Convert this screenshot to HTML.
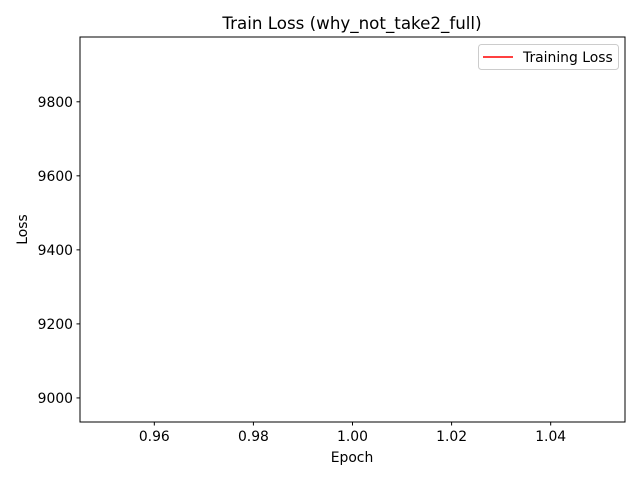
<!DOCTYPE html>
<html><head><meta charset="utf-8"><style>
body{margin:0;background:#fff}
svg{display:block;font-family:"DejaVu Sans","Liberation Sans",sans-serif}
</style></head><body>
<svg id="chart" width="640" height="480">
<text x="352" y="29" font-size="16.7" text-anchor="middle">Train Loss (why_not_take2_full)</text>
<g id="plot"></g>
<rect x="80" y="37" width="545" height="385" fill="none" stroke="#000" stroke-width="1"/>
<text x="352" y="462" font-size="13.9" text-anchor="middle">Epoch</text>
<text transform="translate(27,229.5) rotate(-90)" font-size="13.9" text-anchor="middle">Loss</text>
<g>
<rect x="478.5" y="44.5" width="140" height="25" rx="3" fill="#fff" fill-opacity="0.8" stroke="#ccc"/>
<line x1="483" y1="57" x2="513" y2="57" stroke="red" stroke-width="1.5"/>
<text x="523" y="62" font-size="13.9">Training Loss</text>
</g>
</svg>
<script>
const epochs = [1];
const losses = [9455];
const xTicks = [0.96, 0.98, 1.00, 1.02, 1.04];
const yTicks = [9000, 9200, 9400, 9600, 9800];

const L=80,R=625,T=37,B=422;
function lims(vals){
  let mn=Math.min(...vals),mx=Math.max(...vals);
  if(mn===mx){const d=Math.abs(mn)*0.05||0.05;mn-=d;mx+=d;}
  const m=(mx-mn)*0.05;return [mn-m,mx+m];
}
const [x0,x1]=lims(epochs),[y0,y1]=lims(losses);
const xs=v=>L+(v-x0)/(x1-x0)*(R-L);
const ys=v=>B-(v-y0)/(y1-y0)*(B-T);
const g=document.getElementById('plot');
const NS='http://www.w3.org/2000/svg';
function mk(t,a){const e=document.createElementNS(NS,t);for(const k in a)e.setAttribute(k,a[k]);g.appendChild(e);return e;}
xTicks.forEach(v=>{
  const x=xs(v);
  const t=mk('line',{x1:x,x2:x,y1:B,y2:B+3.5,stroke:'#000'});
  
  
  const l=mk('text',{x:x,y:B+19,'font-size':13.9,'text-anchor':'middle'});
  l.textContent=v.toFixed(2);
  
  
});
yTicks.forEach(v=>{
  const y=ys(v);
  const t=mk('line',{x1:L-3.5,x2:L,y1:y,y2:y,stroke:'#000'});
  
  
  const l=mk('text',{x:L-7,y:y+5,'font-size':13.9,'text-anchor':'end'});
  l.textContent=v;
  
  
});
const pts=epochs.map((e,i)=>xs(e)+','+ys(losses[i])).join(' ');
const line=mk('polyline',{points:pts,fill:'none',stroke:'red','stroke-width':1.5});


</script>
</body></html>
